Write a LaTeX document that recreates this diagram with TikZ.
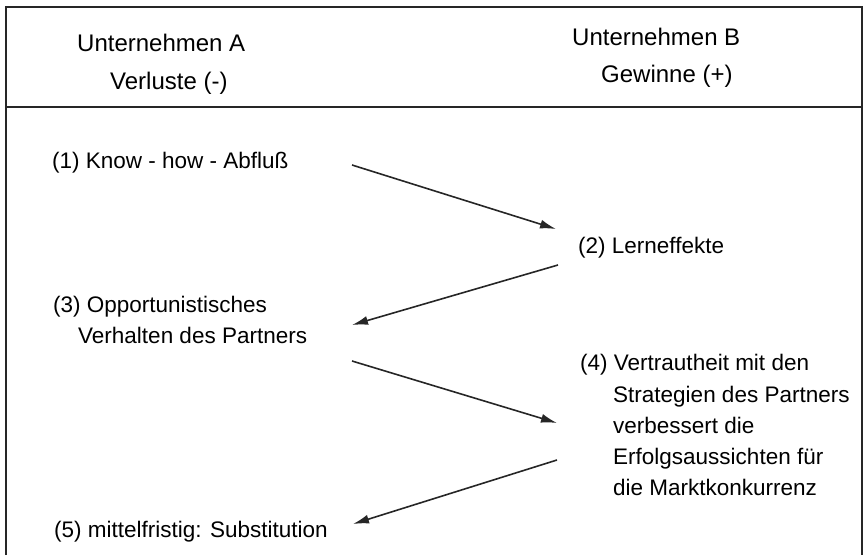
\documentclass[tikz,border=0pt]{standalone}
\usepackage{fontspec}
\setmainfont{Liberation Sans}
\usetikzlibrary{arrows.meta}
\tikzset{
  head/.style={anchor=base west, inner sep=0pt, font=\fontsize{24}{28}\selectfont},
  txt/.style={anchor=base west, inner sep=0pt, font=\fontsize{22.5}{27}\selectfont},
  frame/.style={line width=2pt, draw=black!85},
  flow/.style={line width=1.6pt, draw=black!85, -{Latex[length=16pt,width=9pt]}}
}
\begin{document}
\begin{tikzpicture}[x=1pt,y=-1pt]
\useasboundingbox (0,0) rectangle (867,555);
% frame
\draw[frame] (6,555) -- (6,7) -- (862,7) -- (862,555);
\draw[frame] (6,107) -- (862,107);
% header
\node[head] (ua) at (77,51) {Unternehmen A};
\node[head] (va) at (110,89) {Verluste (-)};
\node[head] (ub) at (572,45) {Unternehmen B};
\node[head] (gb) at (601,82) {Gewinne (+)};
% body
\node[txt] (t1) at (52,168) {(1) Know - how - Abfluß};
\node[txt] (t2) at (578,253) {(2) Lerneffekte};
\node[txt] (t3) at (53,312) {(3) Opportunistisches};
\node[txt] (t3b) at (78,343) {Verhalten des Partners};
\node[txt] (t4) at (580,370) {(4) Vertrautheit mit den};
\node[txt] (t4b) at (613,402) {Strategien des Partners};
\node[txt] (t4c) at (613,433) {verbessert die};
\node[txt] (t4d) at (613,464) {Erfolgsaussichten für};
\node[txt] (t4e) at (613,495) {die Marktkonkurrenz};
\node[txt] (t5) at (54,537) {(5) mittelfristig: Substitution};
% arrow ends
\coordinate (a1s) at (352,165);
\coordinate (a1e) at (556,229);
\coordinate (a2s) at (558,265);
\coordinate (a2e) at (352,325);
\coordinate (a3s) at (352,361);
\coordinate (a3e) at (557,423);
\coordinate (a4s) at (557,460);
\coordinate (a4e) at (353,524);
\draw[flow] (a1s) -- (a1e);
\draw[flow] (a2s) -- (a2e);
\draw[flow] (a3s) -- (a3e);
\draw[flow] (a4s) -- (a4e);
\end{tikzpicture}
\end{document}
